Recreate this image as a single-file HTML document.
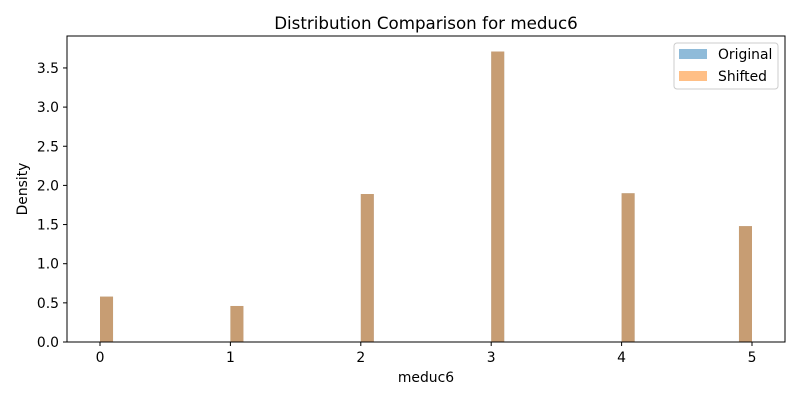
<!DOCTYPE html>
<html><head><meta charset="utf-8"><style>
body{margin:0;background:#fff;}
svg text{font-family:"DejaVu Sans","Liberation Sans",sans-serif;fill:#000;}
</style></head><body>
<svg id="chart" width="800" height="400" xmlns="http://www.w3.org/2000/svg">
<rect width="800" height="400" fill="#fff"/>
<text x="426" y="29" font-size="16.7" text-anchor="middle">Distribution Comparison for meduc6</text>
<g id="bars"></g>
<rect x="67" y="36" width="718" height="306" fill="none" stroke="#000" stroke-width="1"/>
<g id="xticks"></g><g id="yticks"></g>
<text x="426" y="382" font-size="13.9" text-anchor="middle">meduc6</text>
<text transform="translate(27,189) rotate(-90)" font-size="13.9" text-anchor="middle">Density</text>
<g>
<rect x="674" y="43" width="104" height="46" rx="3" fill="#fff" fill-opacity="0.8" stroke="#ccc"/>
<rect x="679" y="49" width="28" height="10" fill="#1f77b4" fill-opacity="0.5"/>
<text x="718" y="59" font-size="13.9">Original</text>
<rect x="679" y="71" width="28" height="10" fill="#ff7f0e" fill-opacity="0.5"/>
<text x="718" y="81" font-size="13.9">Shifted</text>
</g>
</svg>
<script>
const binStarts=[0,1,2,3,4,4.9];
const originalValues=[0.58,0.46,1.89,3.71,1.90,1.48];
const shiftedValues=[0.58,0.46,1.89,3.71,1.90,1.48];
const binWidth=0.1;
const xTicks=[0,1,2,3,4,5];
const yTicks=[0,0.5,1,1.5,2,2.5,3,3.5];
const ns="http://www.w3.org/2000/svg";
const X=v=>100+v*130.4;
const Y=v=>342-v*78.3;
const bars=document.getElementById('bars');
function drawSeries(vals,color,name){
  vals.forEach((v,i)=>{
    const r=document.createElementNS(ns,'rect');
    r.setAttribute('x',X(binStarts[i]));
    r.setAttribute('width',X(binStarts[i]+binWidth)-X(binStarts[i]));
    r.setAttribute('y',Y(v));
    r.setAttribute('height',Y(0)-Y(v));
    r.setAttribute('fill',color);
    r.setAttribute('fill-opacity','0.5');
    
    
    bars.appendChild(r);
  });
}
drawSeries(originalValues,'#1f77b4','original');
drawSeries(shiftedValues,'#ff7f0e','shifted');
const xg=document.getElementById('xticks');
xTicks.forEach(t=>{
  const l=document.createElementNS(ns,'line');
  l.setAttribute('x1',X(t));l.setAttribute('x2',X(t));l.setAttribute('y1',342);l.setAttribute('y2',346);l.setAttribute('stroke','#000');
  
  
  xg.appendChild(l);
  const tx=document.createElementNS(ns,'text');
  tx.setAttribute('x',X(t));tx.setAttribute('y',362);tx.setAttribute('font-size','13.9');tx.setAttribute('text-anchor','middle');
  tx.textContent=t;
  
  
  xg.appendChild(tx);
});
const yg=document.getElementById('yticks');
yTicks.forEach(t=>{
  const l=document.createElementNS(ns,'line');
  l.setAttribute('x1',63);l.setAttribute('x2',67);l.setAttribute('y1',Y(t));l.setAttribute('y2',Y(t));l.setAttribute('stroke','#000');
  
  
  yg.appendChild(l);
  const tx=document.createElementNS(ns,'text');
  tx.setAttribute('x',59);tx.setAttribute('y',Y(t)+5);tx.setAttribute('font-size','13.9');tx.setAttribute('text-anchor','end');
  tx.textContent=t.toFixed(1);
  
  
  yg.appendChild(tx);
});
</script>
</body></html>
